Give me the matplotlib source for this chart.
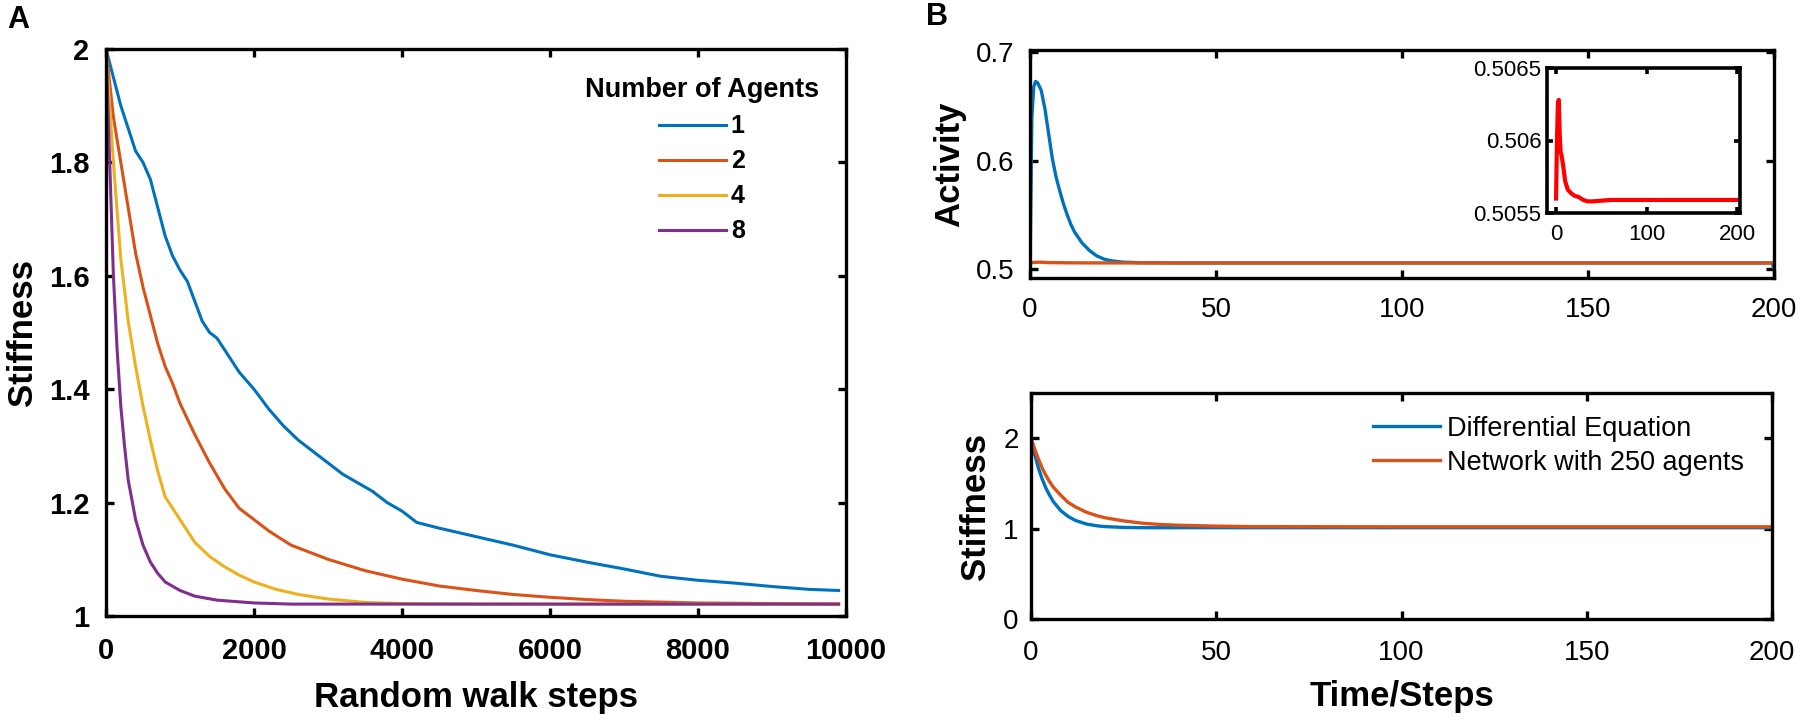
import numpy as np
import matplotlib
matplotlib.use('Agg')
import matplotlib.pyplot as plt

plt.rcParams['font.family'] = ['Liberation Sans', 'DejaVu Sans']

# panel A: stiffness vs random walk steps for different agent counts
steps_1 = [0, 100, 200, 300, 400, 500, 600, 700, 800, 900, 1000, 1100, 1200, 1300, 1400, 1500,
           1600, 1800, 2000, 2200, 2400, 2600, 2800, 3000, 3200, 3400, 3600, 3800, 4000, 4200,
           4500, 5000, 5500, 6000, 6500, 7000, 7500, 8000, 8500, 9000, 9500, 9900]
stiff_1 = [2.0, 1.95, 1.90, 1.86, 1.82, 1.80, 1.77, 1.72, 1.67, 1.635, 1.61, 1.59, 1.555, 1.52,
           1.50, 1.49, 1.47, 1.43, 1.40, 1.365, 1.335, 1.31, 1.29, 1.27, 1.25, 1.235, 1.22, 1.20,
           1.185, 1.165, 1.155, 1.14, 1.125, 1.108, 1.095, 1.083, 1.07, 1.063, 1.058, 1.052,
           1.047, 1.045]
steps_2 = [0, 100, 200, 300, 400, 500, 600, 700, 800, 900, 1000, 1200, 1400, 1600, 1800, 2000,
           2200, 2500, 3000, 3500, 4000, 4500, 5000, 5500, 6000, 6500, 7000, 8000, 9000, 9900]
stiff_2 = [2.0, 1.88, 1.80, 1.72, 1.64, 1.58, 1.53, 1.48, 1.44, 1.41, 1.375, 1.32, 1.27, 1.225,
           1.19, 1.17, 1.15, 1.125, 1.10, 1.08, 1.065, 1.053, 1.045, 1.038, 1.033, 1.029, 1.026,
           1.023, 1.022, 1.021]
steps_4 = [0, 50, 100, 200, 300, 400, 500, 600, 700, 800, 900, 1000, 1200, 1400, 1600, 1800,
           2000, 2300, 2600, 3000, 3500, 4000, 5000, 9900]
stiff_4 = [2.0, 1.90, 1.80, 1.63, 1.52, 1.44, 1.37, 1.31, 1.255, 1.21, 1.19, 1.17, 1.13, 1.105,
           1.087, 1.072, 1.06, 1.047, 1.038, 1.03, 1.024, 1.022, 1.021, 1.021]
steps_8 = [0, 25, 50, 100, 150, 200, 250, 300, 400, 500, 600, 700, 800, 1000, 1200, 1500, 2000,
           2500, 3000, 9900]
stiff_8 = [2.0, 1.90, 1.80, 1.60, 1.47, 1.37, 1.30, 1.24, 1.17, 1.125, 1.095, 1.075, 1.06, 1.045,
           1.035, 1.028, 1.023, 1.021, 1.021, 1.021]
agent_labels = ['1', '2', '4', '8']

# panel B top: activity
t_act_de = [0, 0.5, 1, 1.5, 2, 3, 4, 5, 6, 7, 8, 9, 10, 11, 12, 14, 16, 18, 20, 22, 25, 30,
            40, 60, 100, 150, 199.5, 200]
act_de = [0.5, 0.64, 0.668, 0.673, 0.672, 0.665, 0.648, 0.625, 0.602, 0.585, 0.572, 0.56,
          0.55, 0.541, 0.534, 0.524, 0.517, 0.512, 0.509, 0.5075, 0.5063, 0.5058, 0.5056,
          0.5056, 0.5056, 0.5056, 0.5056, 0.5]
t_act_net = [0, 1, 2, 3, 4, 5, 6, 8, 10, 13, 16, 20, 25, 30, 35, 40, 60, 100, 150, 200]
act_net = [0.50560, 0.50600, 0.50625, 0.50628, 0.50605, 0.50592, 0.50590, 0.50582, 0.50572,
           0.50566, 0.50564, 0.50562, 0.50561, 0.50559, 0.50558, 0.50558, 0.50559, 0.50559,
           0.50559, 0.50559]

# panel B bottom: stiffness
t_st_de = [0, 1, 2, 3, 4, 5, 6, 7, 8, 10, 12, 15, 18, 20, 25, 30, 40, 60, 100, 150, 200]
st_de = [2.0, 1.82, 1.67, 1.55, 1.45, 1.37, 1.30, 1.25, 1.20, 1.135, 1.09, 1.05, 1.03, 1.022,
         1.013, 1.01, 1.01, 1.01, 1.01, 1.01, 1.01]
t_st_net = [0, 1, 2, 3, 4, 5, 6, 8, 10, 12, 15, 18, 20, 25, 30, 35, 40, 50, 60, 100, 150, 200]
st_net = [2.0, 1.88, 1.77, 1.67, 1.59, 1.52, 1.46, 1.37, 1.29, 1.24, 1.18, 1.14, 1.12, 1.085,
          1.06, 1.045, 1.037, 1.027, 1.022, 1.02, 1.02, 1.02]
legend_b = ['Differential Equation', 'Network with 250 agents']

blue = '#0072BD'
red = '#D95319'
yellow = '#EDB120'
purple = '#7E2F8E'

W, H = 1801, 721
fig = plt.figure(figsize=(W / 100, H / 100), dpi=100)


def box(x0, y0, x1, y1):
    # pixel box (top-left origin) -> figure fraction
    return [x0 / W, 1 - y1 / H, (x1 - x0) / W, (y1 - y0) / H]


def style(ax, lw=2.4, size=20, weight='normal', xpad=14, ypad=9):
    for s in ax.spines.values():
        s.set_linewidth(lw)
    ax.tick_params(direction='in', length=6, width=lw, top=True, right=True, labelsize=size)
    ax.tick_params(axis='x', pad=xpad)
    ax.tick_params(axis='y', pad=ypad)
    for lab in ax.get_xticklabels() + ax.get_yticklabels():
        lab.set_fontweight(weight)


# ---- A ----
axA = fig.add_axes(box(106, 49, 846, 616))
for xs, ys, c, lab in zip([steps_1, steps_2, steps_4, steps_8],
                          [stiff_1, stiff_2, stiff_4, stiff_8],
                          [blue, red, yellow, purple], agent_labels):
    axA.plot(xs, ys, color=c, lw=2.2, label=lab)
axA.set_xlim(0, 10000)
axA.set_ylim(1, 2)
axA.set_xticks([0, 2000, 4000, 6000, 8000, 10000])
axA.set_yticks([1, 1.2, 1.4, 1.6, 1.8, 2])
axA.set_yticklabels(['1', '1.2', '1.4', '1.6', '1.8', '2'])
style(axA, size=21, weight='bold', xpad=15, ypad=12)
axA.set_xlabel('Random walk steps', fontsize=25, fontweight='bold', labelpad=12)
axA.set_ylabel('Stiffness', fontsize=25, fontweight='bold', labelpad=7)
legA = axA.legend(title='Number of Agents', loc='upper left', frameon=False,
                  bbox_to_anchor=(0.647, 0.95), borderpad=0, borderaxespad=0,
                  handlelength=2.68, handletextpad=0.2, labelspacing=0.44,
                  prop={'weight': 'bold', 'size': 18},
                  title_fontproperties={'weight': 'bold', 'size': 19.5})
legA._legend_box.align = 'center'
fig.text(18 / W, 1 - 20 / H, 'A', fontsize=22, fontweight='bold', va='center', ha='center')

# ---- B top ----
axB1 = fig.add_axes(box(1030, 50, 1774, 278))
axB1.plot(t_act_de, act_de, color=blue, lw=2.4)
axB1.plot(t_act_net, act_net, color=red, lw=2.4)
axB1.set_xlim(0, 200)
axB1.set_ylim(0.4917, 0.702)
axB1.set_xticks([0, 50, 100, 150, 200])
axB1.set_yticks([0.5, 0.6, 0.7])
style(axB1, xpad=14, ypad=11)
axB1.set_ylabel('Activity', fontsize=25, fontweight='bold', labelpad=7)
fig.text(937 / W, 1 - 17 / H, 'B', fontsize=22, fontweight='bold', va='center', ha='center')

# inset
axIn = fig.add_axes(box(1547, 68, 1740, 213))
axIn.plot(t_act_net, act_net, color='#FF0000', lw=3)
axIn.set_xlim(-10, 203)
axIn.set_ylim(0.5055, 0.5065)
axIn.set_xticks([0, 100, 200])
axIn.set_yticks([0.5055, 0.506, 0.5065])
axIn.set_yticklabels(['0.5055', '0.506', '0.5065'])
style(axIn, lw=2.6, size=16, xpad=8, ypad=4)
axIn.tick_params(length=4)

# ---- B bottom ----
axB2 = fig.add_axes(box(1031, 393, 1772, 619))
axB2.plot(t_st_de, st_de, color=blue, lw=2.4, label=legend_b[0])
axB2.plot(t_st_net, st_net, color=red, lw=2.4, label=legend_b[1])
axB2.set_xlim(0, 200)
axB2.set_ylim(0, 2.5)
axB2.set_xticks([0, 50, 100, 150, 200])
axB2.set_yticks([0, 1, 2])
style(axB2, xpad=15, ypad=9)
axB2.set_xlabel('Time/Steps', fontsize=25, fontweight='bold', labelpad=10)
axB2.set_ylabel('Stiffness', fontsize=25, fontweight='bold', labelpad=8)
axB2.legend(loc='upper left', frameon=False, bbox_to_anchor=(0.4615, 0.9), fontsize=19.5,
            borderpad=0, borderaxespad=0, handlelength=2.48, handletextpad=0.26,
            labelspacing=0.3)

fig.savefig('out.png', dpi=100)
